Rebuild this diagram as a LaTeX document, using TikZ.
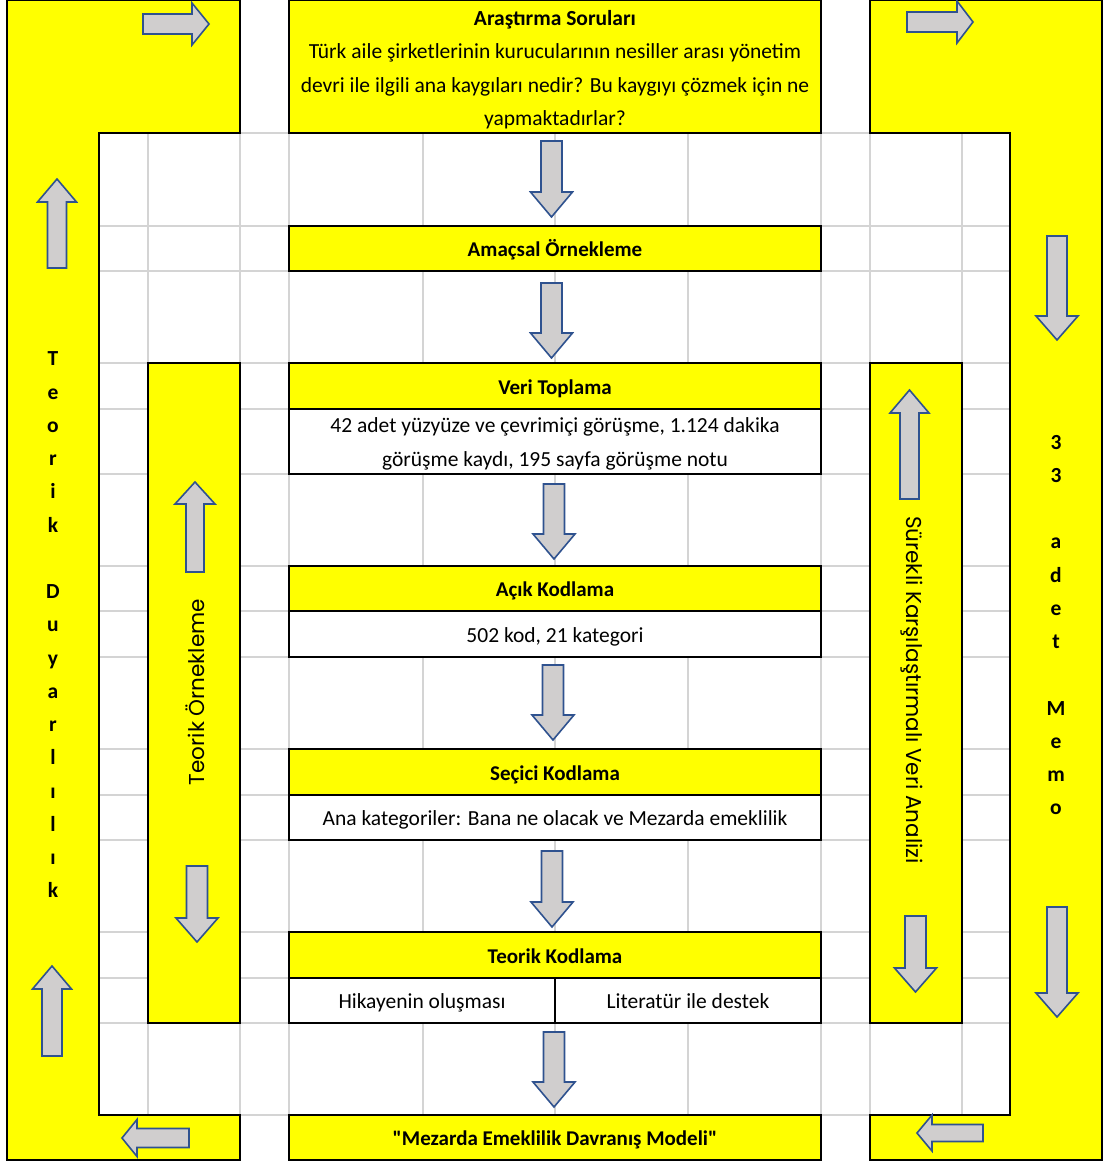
\documentclass[tikz,border=0pt]{standalone}
\usepackage{fontspec}
\setmainfont{Carlito}
\newfontfamily\rotfont{Poppins}
\definecolor{cellyellow}{HTML}{FFFF00}
\definecolor{gridgray}{HTML}{D4D4D4}
\definecolor{arrowfill}{HTML}{D0CECE}
\definecolor{arrowline}{HTML}{2F528F}

% straight double quote, set as a glyph so it is not turned into a curly one
\newcommand{\straightquote}{\XeTeXglyph\XeTeXcharglyph"22\relax}

% block arrow: tail centre (#1,#2), direction #3, total length #4,
% shaft width #5, head width #6, head length #7
\newcommand{\blockarrow}[7]{%
  \begin{scope}[shift={(#1,#2)},rotate=#3]
    \draw[barrow] (0,{#5/2}) -- ({#4-#7},{#5/2}) -- ({#4-#7},{#6/2}) -- (#4,0)
      -- ({#4-#7},{-#6/2}) -- ({#4-#7},{-#5/2}) -- (0,{-#5/2}) -- cycle;
  \end{scope}}

\tikzset{
  cell/.style={draw=black, line width=1.7pt, minimum width=532pt, inner sep=0pt,
    outer sep=0pt, align=center, text height=18pt, text depth=2pt,
    font=\fontsize{21.5}{33.5}\selectfont},
  headcell/.style={cell, fill=cellyellow, font=\fontsize{21}{33.5}\selectfont\bfseries},
  plaincell/.style={cell, fill=white},
  celltext/.style={inner sep=0pt, align=center, font=\fontsize{21.5}{33.5}\selectfont},
  barrow/.style={fill=arrowfill, draw=arrowline, line width=1.6pt, line join=miter},
  gridline/.style={draw=gridgray, line width=1.5pt},
  frame/.style={fill=cellyellow, draw=black, line width=1.7pt},
  stacked/.style={inner sep=0pt, align=center, font=\fontsize{21.5}{33.25}\selectfont\bfseries},
  sidelabel/.style={inner sep=0pt, font=\rotfont\fontsize{21.5}{24}\selectfont},
}

\begin{document}
\begin{tikzpicture}[x=1pt, y=-1pt]
\useasboundingbox (0,0) rectangle (1104,1162);

% worksheet grid
\foreach \gx in {99,148,240,289,423,555,688,821,870,962,1010}
  \draw[gridline] (\gx,0) -- (\gx,1160);
\foreach \gy in {133,226,271,363,409,474,566,611,657,749,795,840,932,978,1023,1115}
  \draw[gridline] (7,\gy) -- (1102,\gy);

% outer bracket frames
\draw[frame] (7,0) -- (240,0) -- (240,133) -- (99,133) -- (99,1115) -- (240,1115)
  -- (240,1160) -- (7,1160) -- cycle;
\draw[frame] (870,0) -- (1102,0) -- (1102,1160) -- (870,1160) -- (870,1115)
  -- (1010,1115) -- (1010,133) -- (870,133) -- cycle;

% inner side bars
\draw[frame] (148,363) rectangle (240,1023);
\draw[frame] (870,363) rectangle (962,1023);

% central process column
\node[headcell, minimum height=133pt, text height=0pt, text depth=0pt] (questions) at (555,66.5) {};
\node[celltext] (questext) at (555,69.5)
  {\textbf{Araştırma Soruları}\\Türk aile şirketlerinin kurucularının nesiller arası yönetim\\
   devri ile ilgili ana kaygıları nedir? Bu kaygıyı çözmek için ne\\
   yapmaktadırlar?};
\node[headcell, minimum height=45pt] (sampling) at (555,248.5) {Amaçsal Örnekleme};
\node[headcell, minimum height=46pt] (collect) at (555,386) {Veri Toplama};
\node[plaincell, minimum height=65pt, text height=0pt, text depth=0pt] (collectinfo) at (555,441.5) {};
\node[celltext] (collecttext) at (555,444)
  {42 adet yüzyüze ve çevrimiçi görüşme, 1.124 dakika\\görüşme kaydı, 195 sayfa görüşme notu};
\node[headcell, minimum height=45pt] (opencode) at (555,588.5) {Açık Kodlama};
\node[plaincell, minimum height=46pt] (openinfo) at (555,634) {502 kod, 21 kategori};
\node[headcell, minimum height=46pt] (selcode) at (555,772) {Seçici Kodlama};
\node[plaincell, minimum height=45pt] (selinfo) at (555,817.5)
  {Ana kategoriler: Bana ne olacak ve Mezarda emeklilik};
\node[headcell, minimum height=46pt] (theocode) at (555,955) {Teorik Kodlama};
\node[plaincell, minimum width=266pt, minimum height=45pt] (story) at (422,1000.5) {Hikayenin oluşması};
\node[plaincell, minimum width=266pt, minimum height=45pt] (litsupport) at (688,1000.5) {Literatür ile destek};
\node[headcell, minimum height=45pt] (model) at (555,1137.5)
  {\straightquote Mezarda Emeklilik Davranış Modeli\straightquote};

% arrows between the stages
\blockarrow{551.5}{141}{-90}{76}{21}{42}{25}
\blockarrow{551.5}{283}{-90}{75}{21}{42}{25}
\blockarrow{554}{484}{-90}{75}{21}{42}{25}
\blockarrow{553}{665}{-90}{75}{21}{42}{25}
\blockarrow{552}{851}{-90}{76}{21}{42}{25}
\blockarrow{554}{1032}{-90}{75}{21}{42}{25}

% arrows around the outer frame
\blockarrow{143}{24}{0}{66}{20}{42}{17}
\blockarrow{907}{22}{0}{66}{20}{42}{16}
\blockarrow{57}{268}{90}{89}{19}{39}{23}
\blockarrow{52}{1056}{90}{90}{20}{39}{23}
\blockarrow{189}{1138}{180}{67}{19}{37}{15}
\blockarrow{983}{1133}{180}{66}{17}{36}{15}
\blockarrow{1057}{236}{-90}{104}{20}{42}{24}
\blockarrow{1057}{907}{-90}{110}{20}{42}{24}

% arrows in the inner side bars
\blockarrow{195}{572}{90}{90}{18}{40}{22}
\blockarrow{197}{866}{-90}{76}{21}{42}{24}
\blockarrow{909.5}{499}{90}{109}{19}{39}{23}
\blockarrow{915.5}{916}{-90}{76}{21}{42}{24}

% side labels
\node[stacked] (sensitivity) at (53,625)
  {T\\e\\o\\r\\i\\k\\\mbox{}\\D\\u\\y\\a\\r\\l\\ı\\l\\ı\\k};
\node[stacked] (memos) at (1056,625)
  {3\\3\\\mbox{}\\a\\d\\e\\t\\\mbox{}\\M\\e\\m\\o};
\node[sidelabel, rotate=90] (theosampling) at (195,692) {Teorik Örnekleme};
\node[sidelabel, rotate=-90] (comparison) at (912,690) {Sürekli Karşılaştırmalı Veri Analizi};
\end{tikzpicture}
\end{document}
